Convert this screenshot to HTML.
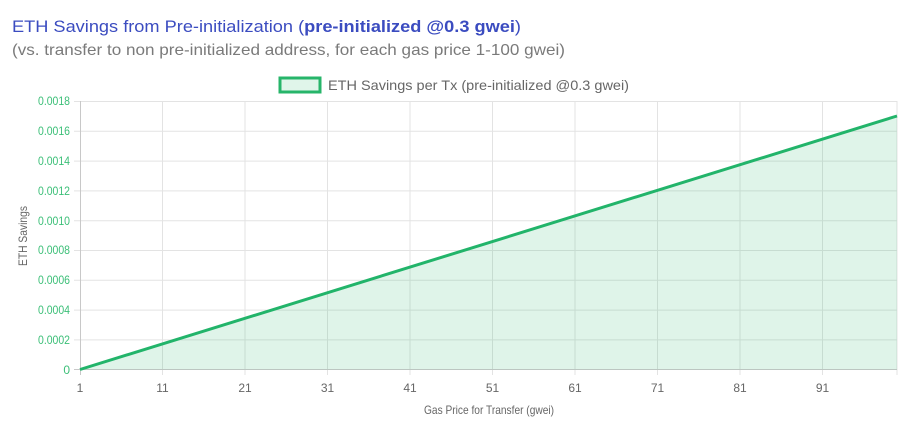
<!DOCTYPE html>
<html><head><meta charset="utf-8"><style>
body{margin:0;background:#fff;width:910px;height:430px;overflow:hidden;font-family:"Liberation Sans",sans-serif}
</style></head><body>
<svg width="910" height="430" xmlns="http://www.w3.org/2000/svg" font-family="Liberation Sans, sans-serif">
<text x="12" y="32" font-size="17" fill="#3b4cc0" textLength="509" lengthAdjust="spacingAndGlyphs">ETH Savings from Pre-initialization (<tspan font-weight="bold">pre-initialized @0.3 gwei</tspan>)</text>
<text x="12" y="55" font-size="16" fill="#7a7a7a" textLength="553" lengthAdjust="spacingAndGlyphs">(vs. transfer to non pre-initialized address, for each gas price 1-100 gwei)</text>
<rect x="280" y="78" width="40" height="14" fill="#e0f5ea" stroke="#27b56a" stroke-width="3"/>
<text x="328" y="90" font-size="14" fill="#666" textLength="301" lengthAdjust="spacingAndGlyphs">ETH Savings per Tx (pre-initialized @0.3 gwei)</text>
<g stroke="#e3e3e3" stroke-width="1">
<line x1="74" y1="101.5" x2="897" y2="101.5"/><line x1="74" y1="131.3" x2="897" y2="131.3"/><line x1="74" y1="161.1" x2="897" y2="161.1"/><line x1="74" y1="190.9" x2="897" y2="190.9"/><line x1="74" y1="220.7" x2="897" y2="220.7"/><line x1="74" y1="250.5" x2="897" y2="250.5"/><line x1="74" y1="280.3" x2="897" y2="280.3"/><line x1="74" y1="310.1" x2="897" y2="310.1"/><line x1="74" y1="339.9" x2="897" y2="339.9"/>
<line x1="162.5" y1="101" x2="162.5" y2="375"/><line x1="245" y1="101" x2="245" y2="375"/><line x1="327.5" y1="101" x2="327.5" y2="375"/><line x1="410" y1="101" x2="410" y2="375"/><line x1="492.5" y1="101" x2="492.5" y2="375"/><line x1="575" y1="101" x2="575" y2="375"/><line x1="657.5" y1="101" x2="657.5" y2="375"/><line x1="740" y1="101" x2="740" y2="375"/><line x1="822.5" y1="101" x2="822.5" y2="375"/><line x1="897" y1="101" x2="897" y2="375"/>
</g>
<line x1="80.5" y1="101" x2="80.5" y2="375" stroke="#c8c8c8"/>
<line x1="74" y1="369.5" x2="897" y2="369.5" stroke="#c8c8c8"/>
<polygon points="80,369.5 897,116 897,369.5" fill="#27b56a" fill-opacity="0.15"/>
<line x1="80" y1="369.5" x2="897" y2="116" stroke="#22b46a" stroke-width="3"/>
<g font-size="12" fill="#3cbf78" text-anchor="end">
<text x="70" y="105" textLength="32" lengthAdjust="spacingAndGlyphs">0.0018</text><text x="70" y="135" textLength="32" lengthAdjust="spacingAndGlyphs">0.0016</text><text x="70" y="165" textLength="32" lengthAdjust="spacingAndGlyphs">0.0014</text><text x="70" y="195" textLength="32" lengthAdjust="spacingAndGlyphs">0.0012</text><text x="70" y="225" textLength="32" lengthAdjust="spacingAndGlyphs">0.0010</text><text x="70" y="254" textLength="32" lengthAdjust="spacingAndGlyphs">0.0008</text><text x="70" y="284" textLength="32" lengthAdjust="spacingAndGlyphs">0.0006</text><text x="70" y="314" textLength="32" lengthAdjust="spacingAndGlyphs">0.0004</text><text x="70" y="344" textLength="32" lengthAdjust="spacingAndGlyphs">0.0002</text><text x="70" y="374">0</text>
</g>
<g font-size="12" fill="#666" text-anchor="middle">
<text x="80" y="392">1</text><text x="162.5" y="392">11</text><text x="245" y="392">21</text><text x="327.5" y="392">31</text><text x="410" y="392">41</text><text x="492.5" y="392">51</text><text x="575" y="392">61</text><text x="657.5" y="392">71</text><text x="740" y="392">81</text><text x="822.5" y="392">91</text>
</g>
<text x="489" y="414" font-size="12" fill="#666" text-anchor="middle" textLength="130" lengthAdjust="spacingAndGlyphs">Gas Price for Transfer (gwei)</text>
<text transform="translate(27,236) rotate(-90)" font-size="12" fill="#666" text-anchor="middle" textLength="60" lengthAdjust="spacingAndGlyphs">ETH Savings</text>
</svg>
</body></html>
